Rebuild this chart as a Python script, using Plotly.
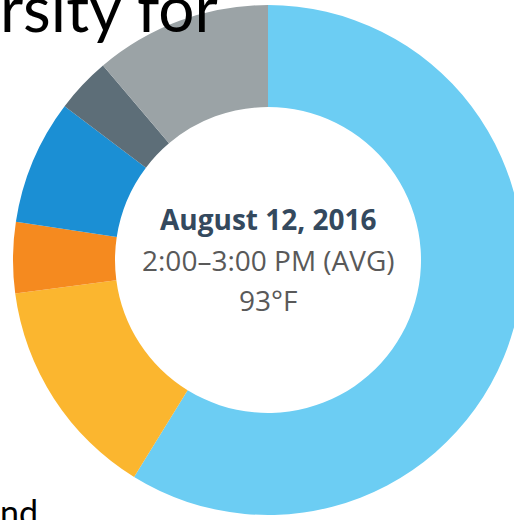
import plotly.graph_objects as go

# Data
sources = ["Natural Gas", "Coal", "Hydro", "Wind", "Other", "Nuclear"]
shares = [58.8, 14.1, 4.5, 7.9, 3.5, 11.2]
colors = ["#6ccdf3", "#fbb62f", "#f58a1f", "#1b8fd4", "#5d6e78", "#9ba3a6"]

title_line = "August 12, 2016"
sub_line = "2:00–3:00 PM (AVG)"
temp_line = "93°F"

W, H = 540, 520
cx, cy, r = 268, 260, 255

fig = go.Figure(go.Pie(
    labels=sources,
    values=shares,
    marker=dict(colors=colors, line=dict(width=0)),
    hole=0.6,
    sort=False,
    direction="clockwise",
    rotation=0,
    textinfo="none",
    hoverinfo="label+percent",
    domain=dict(x=[(cx - r) / W, (cx + r) / W], y=[(H - cy - r) / H, (H - cy + r) / H]),
    showlegend=False,
))

def py(y):
    return (H - y) / H

def px(x):
    return x / W

ann = [
    dict(text="<b>" + title_line + "</b>", x=px(cx), y=py(219), font=dict(family="Open Sans", size=28, color="#34495e"),
         xanchor="center", yanchor="middle"),
    dict(text=sub_line, x=px(cx), y=py(260), font=dict(family="Open Sans", size=28, color="#595959"),
         xanchor="center", yanchor="middle"),
    dict(text=temp_line, x=px(cx), y=py(300), font=dict(family="Open Sans", size=28, color="#595959"),
         xanchor="center", yanchor="middle"),
    dict(text="rsity for", x=px(-2), y=py(8), font=dict(family="Lato", size=64, color="#000000"),
         xanchor="left", yanchor="middle"),
    dict(text="nd", x=px(-2), y=py(511), font=dict(family="Lato", size=34, color="#000000"),
         xanchor="left", yanchor="middle"),
]
for a in ann:
    a.update(xref="paper", yref="paper", showarrow=False)
fig.update_layout(annotations=ann)

fig.update_layout(
    width=W, height=H,
    margin=dict(l=0, r=0, t=0, b=0),
    paper_bgcolor="white",
    plot_bgcolor="white",
)

fig.write_html("out.html", config={"displayModeBar": False},
               post_script="document.body.style.margin='0';document.body.style.overflow='hidden';")
